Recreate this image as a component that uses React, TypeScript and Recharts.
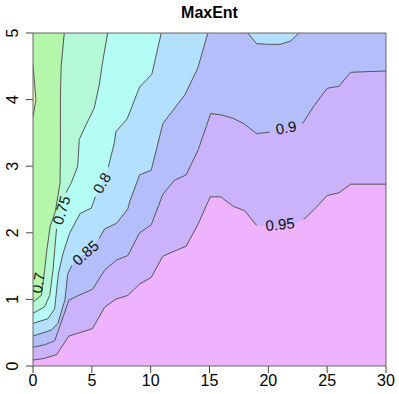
import { ComposedChart, Area, Line, Scatter, XAxis, YAxis, ReferenceArea } from 'recharts'

// contour polylines: [x, y] or [x, y, 1] where 1 = hidden under a label
const level065 = [[0, 3.74], [0.25, 4.0], [0, 4.52]]
const level070 = [[0, 0.96], [0.71, 1.06], [0.99, 1.44], [1.14, 1.69], [1.45, 2.09], [1.9, 2.32], [2.3, 2.75], [2.33, 3.3], [2.33, 3.6], [2.33, 4.07], [2.4, 4.52], [2.66, 5], [30, 5, 1]]
const level075 = [[0, 0.79], [0.99, 0.89], [1.42, 1.06], [1.7, 1.44], [1.85, 1.75], [2.0, 2.06], [2.4, 2.34, 1], [2.8, 2.6], [3.25, 2.75], [3.8, 3.0], [3.93, 3.4], [4.5, 3.62], [5.2, 3.87], [5.63, 4.22], [5.92, 4.57], [6.35, 5], [30, 5, 1]]
const level080 = [[0, 0.64], [1.27, 0.71], [1.84, 0.86], [2.15, 1.38], [2.55, 1.69], [3.1, 1.99], [4, 2.29], [4.95, 2.37], [5.3, 2.54], [5.83, 2.75, 1], [6.4, 2.99], [6.9, 3.34], [7.05, 3.52], [8, 3.71], [9.06, 4.19], [10.1, 4.38], [10.9, 5], [30, 5, 1]]
const level085 = [[0, 0.45], [1.56, 0.54], [2.12, 0.64], [2.72, 1.0], [2.95, 1.38], [3.3, 1.51], [4.45, 1.7, 1], [5.6, 1.91], [6.09, 2.06], [7.08, 2.14], [8.06, 2.36], [8.22, 2.47], [9.06, 2.87], [10.05, 2.94], [11.04, 3.64], [11.9, 3.84], [12.9, 4.07], [14, 4.47], [14.86, 5], [16.5, 5, 1], [18.25, 5], [19, 4.84], [20, 4.83], [21, 4.83], [21.9, 4.88], [22.6, 5], [30, 5, 1]]
const level090 = [[0, 0.28], [1, 0.32], [1.85, 0.38], [3.05, 0.99], [4, 1.07], [5.05, 1.15], [6.09, 1.44], [7.08, 1.59], [8.07, 1.66], [9.06, 2.0], [10.05, 2.12], [11.04, 2.58], [12.03, 2.79], [13.02, 2.87], [14.05, 3.25], [15.1, 3.79], [16, 3.77], [17, 3.72], [17.9, 3.64], [19, 3.49], [20.1, 3.51], [21.5, 3.55, 1], [22.9, 3.64], [23.9, 3.91], [25, 4.17], [26, 4.2], [27, 4.41], [30, 4.43]]
const level095 = [[0, 0.09], [0.85, 0.11], [2, 0.17], [3.05, 0.45], [5.05, 0.56], [6.08, 0.88], [7, 1.0], [8.07, 1.06], [9.06, 1.23], [10.05, 1.33], [11.04, 1.65], [13.02, 1.8], [14, 2.12], [15.06, 2.54], [15.95, 2.54], [17, 2.4], [18, 2.33], [19.0, 2.11], [20, 2.09, 1], [21, 2.09, 1], [22, 2.12, 1], [23.0, 2.2], [23.9, 2.35], [25, 2.56], [26, 2.6], [27, 2.73], [30, 2.73]]
const plotTop = [[0, 5], [30, 5]]

const bandColors = ['#eaf2b2', '#b5f7aa', '#b3f9d8', '#b3fdf5', '#b3e0fc', '#b3befb', '#cbb3fc', '#efb2fc']

const labelText = ['0.7', '0.75', '0.8', '0.85', '0.9', '0.95']
const labelX = [0.42, 2.4, 5.83, 4.45, 21.5, 21.0]
const labelY = [1.25, 2.34, 2.75, 1.7, 3.58, 2.13]
const labelAngle = [-80, -73, -60, -41, -10, -5]

const xTicks = [0, 5, 10, 15, 20, 25, 30]
const yTicks = [0, 1, 2, 3, 4, 5]

const FONT = "'Liberation Sans', Arial, sans-serif"
const LINE = '#555'

const rows = (pts: number[][]) => pts.map(([x, y]) => ({ x, y }))
const lineRows = (pts: number[][]) => pts.map(([x, y, h]) => ({ x, y: h ? null : y }))

const labels = labelText.map((t, i) => ({ x: labelX[i], y: labelY[i], t, a: labelAngle[i] }))

const XTick = (props: any) => (
  <text x={props.x} y={385.5} textAnchor="middle" fontSize={16} fontFamily={FONT} fill="#000">
    {props.payload.value}
  </text>
)

const YTick = (props: any) => (
  <text
    x={18}
    y={props.y}
    textAnchor="middle"
    fontSize={16}
    fontFamily={FONT}
    fill="#000"
    transform={`rotate(-90, 18, ${props.y})`}
  >
    {props.payload.value}
  </text>
)

const LabelShape = (props: any) => {
  const { cx, cy, payload } = props
  return (
    <text
      x={cx}
      y={cy}
      textAnchor="middle"
      dominantBaseline="central"
      fontSize={15}
      fontFamily={FONT}
      fill="#111"
      transform={`rotate(${payload.a}, ${cx}, ${cy})`}
    >
      {payload.t}
    </text>
  )
}

export default function App() {
  const fills = [level070, level075, level080, level085, level090, level095]

  return (
    <div style={{ position: 'fixed', left: 0, top: 0, width: 399, height: 394, background: '#fff' }}>
      <svg width={399} height={30} style={{ position: 'absolute', left: 0, top: 0 }}>
        <text x={209.5} y={17.5} textAnchor="middle" fontSize={16} fontWeight="bold" fontFamily={FONT}>
          MaxEnt
        </text>
      </svg>
      <ComposedChart width={399} height={394} margin={{ top: 33, right: 13, bottom: 0, left: 0 }}>
        <XAxis
          type="number"
          dataKey="x"
          domain={[0, 30]}
          ticks={xTicks}
          allowDataOverflow
          axisLine={false}
          tickSize={7}
          tickLine={{ stroke: '#444' }}
          tick={<XTick />}
          height={28}
        />
        <YAxis
          type="number"
          dataKey="y"
          domain={[0, 5]}
          ticks={yTicks}
          allowDataOverflow
          axisLine={false}
          tickSize={7}
          tickLine={{ stroke: '#444' }}
          tick={<YTick />}
          width={33}
        />
        <Area data={rows(plotTop)} dataKey="y" type="linear" baseValue={0} fill={bandColors[1]} fillOpacity={1} stroke="none" isAnimationActive={false} />
        <Area data={rows(level065)} dataKey="y" type="linear" baseValue={0} fill={bandColors[0]} fillOpacity={1} stroke="none" isAnimationActive={false} />
        {fills.map((pts, i) => (
          <Area
            key={'a' + i}
            data={rows(pts)}
            dataKey="y"
            type="linear"
            baseValue={0}
            fill={bandColors[i + 2]}
            fillOpacity={1}
            stroke="none"
            isAnimationActive={false}
          />
        ))}
        {[level065, ...fills].map((pts, i) => (
          <Line
            key={'l' + i}
            data={lineRows(pts)}
            dataKey="y"
            type="linear"
            stroke={LINE}
            strokeWidth={1}
            dot={false}
            activeDot={false}
            isAnimationActive={false}
          />
        ))}
        <Scatter data={labels} dataKey="y" shape={<LabelShape />} isAnimationActive={false} />
        <ReferenceArea x1={0} x2={30} y1={0} y2={5} fill="none" stroke="#666" strokeWidth={1} ifOverflow="visible" zIndex={1000} />
      </ComposedChart>
    </div>
  )
}
